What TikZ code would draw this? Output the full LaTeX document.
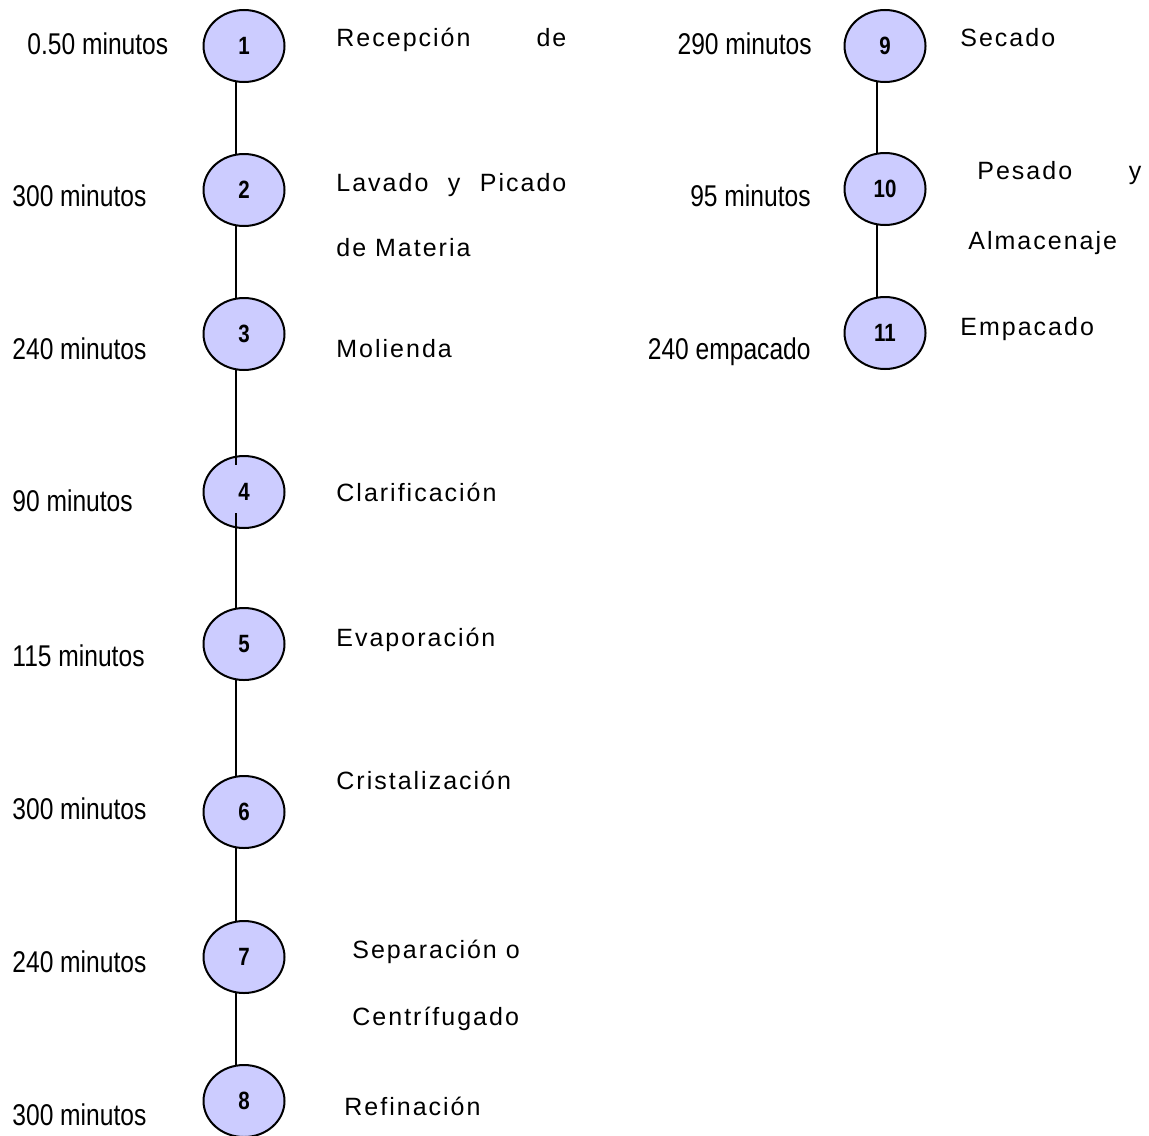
\documentclass[tikz,border=0pt]{standalone}
\usepackage{fontspec}
\setmainfont{Liberation Sans}
\newfontfamily\narrowfont[FakeStretch=0.82]{Liberation Sans}
\newfontfamily\spacedfont[LetterSpace=8]{Liberation Sans}
\usetikzlibrary{shapes.geometric,calc}
\definecolor{stepfill}{HTML}{CCCCFF}
\tikzset{
  stepnode/.style={ellipse, draw=black, line width=1pt, fill=stepfill,
    minimum width=40.5pt, minimum height=36pt, inner sep=0pt,
    font=\narrowfont\bfseries\fontsize{12.5pt}{14pt}\selectfont},
  timelbl/.style={inner sep=0pt, font=\narrowfont\fontsize{15pt}{18pt}\selectfont},
  desclbl/.style={inner sep=0pt, anchor=base west, font=\spacedfont\fontsize{12.5pt}{15pt}\selectfont},
  link/.style={line width=0.9pt, draw=black}
}
\begin{document}
\begin{tikzpicture}[x=0.5pt,y=-0.5pt]
\useasboundingbox (0,0) rectangle (1149,1135);
% left column
\node[stepnode] (c1) at (244,46) {1};
\node[stepnode] (c2) at (244,190) {2};
\node[stepnode] (c3) at (244,334) {3};
\node[stepnode] (c4) at (244,492) {4};
\node[stepnode] (c5) at (244,644) {5};
\node[stepnode] (c6) at (244,812) {6};
\node[stepnode] (c7) at (244,957) {7};
\node[stepnode] (c8) at (244,1101) {8};
% right column
\node[stepnode] (c9) at (885,46) {9};
\node[stepnode] (c10) at (885,189) {10};
\node[stepnode] (c11) at (885,333) {11};
% connectors
\draw[link] (c1.257) -- (c2.103);
\draw[link] (c2.257) -- (c3.103);
\draw[link] (c3.257) -- ($(c3.257 |- c4.center)+(0,-27)$);
\draw[link] ($(c5.103 |- c4.center)+(0,21)$) -- (c5.103);
\draw[link] (c5.257) -- (c6.103);
\draw[link] (c6.257) -- (c7.103);
\draw[link] (c7.257) -- (c8.103);
\draw[link] (c9.257) -- (c10.103);
\draw[link] (c10.257) -- (c11.103);
% time labels left
\node[timelbl, anchor=base west] (t1) at (27,54) {0.50 minutos};
\node[timelbl, anchor=base west] (t2) at (12,206) {300 minutos};
\node[timelbl, anchor=base west] (t3) at (12,359) {240 minutos};
\node[timelbl, anchor=base west] (t4) at (12,511) {90 minutos};
\node[timelbl, anchor=base west] (t5) at (12,666) {115 minutos};
\node[timelbl, anchor=base west] (t6) at (12,819) {300 minutos};
\node[timelbl, anchor=base west] (t7) at (12,972) {240 minutos};
\node[timelbl, anchor=base west] (t8) at (12,1125) {300 minutos};
% time labels right
\node[timelbl, anchor=base east] (t9) at (812,54) {290 minutos};
\node[timelbl, anchor=base east] (t10) at (811,206) {95 minutos};
\node[timelbl, anchor=base east] (t11) at (811,359) {240 empacado};
% descriptions left
\node[desclbl] (d1) at (336,46) {\makebox[115pt][s]{Recepción de}};
\node[desclbl] (d2a) at (336,191) {\makebox[115pt][s]{Lavado y Picado}};
\node[desclbl] (d2b) at (336,256) {de Materia};
\node[desclbl] (d3) at (336,357) {Molienda};
\node[desclbl] (d4) at (336,501) {Clarificación};
\node[desclbl] (d5) at (336,646) {Evaporación};
\node[desclbl] (d6) at (336,789) {Cristalización};
\node[desclbl] (d7a) at (352,958) {Separación o};
\node[desclbl] (d7b) at (352,1025) {Centrífugado};
\node[desclbl] (d8) at (344,1115) {Refinación};
% descriptions right
\node[desclbl] (d9) at (960,46) {Secado};
\node[desclbl] (d10a) at (977,179) {\makebox[82pt][s]{Pesado y}};
\node[desclbl] (d10b) at (968,249) {Almacenaje};
\node[desclbl] (d11) at (960,335) {Empacado};
\end{tikzpicture}
\end{document}
